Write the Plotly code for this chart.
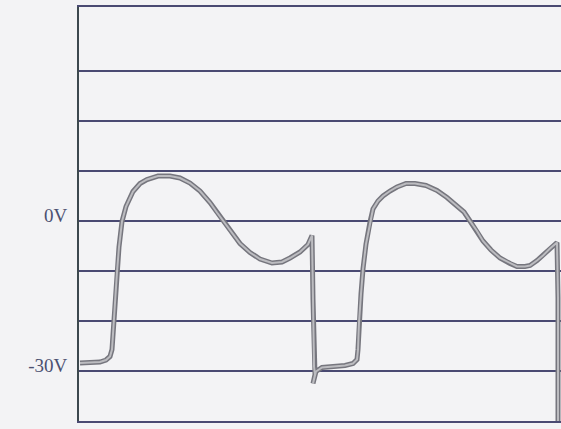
import plotly.graph_objects as go

# time (arbitrary units) and membrane potential (mV)
t_ms = [1, 21, 27, 31, 33, 34, 36, 38, 40, 43,
        47, 54, 61, 68, 79, 91, 101, 111, 121, 131,
        138, 144, 153, 161, 171, 181, 193, 203, 211, 221,
        229, 233, 234, 235, 236, 234, 237, 243, 256, 266,
        274, 278, 279, 280, 282, 284, 287, 291, 294, 299,
        304, 311, 318, 327, 336, 347, 358, 368, 378, 385,
        391, 398, 404, 412, 421, 431, 438, 446, 451, 458,
        464, 471, 478, 479, 479]
v_mv = [-28.4, -28.2, -27.8, -27.1, -25.7, -22.2, -16.2, -10.2, -5.2, -0.1,
        2.9, 5.9, 7.5, 8.3, 9.0, 9.0, 8.6, 7.6, 6.0, 3.7,
        1.7, 0.1, -2.3, -4.5, -6.3, -7.6, -8.4, -8.2, -7.4, -6.2,
        -4.7, -2.9, -15.7, -29.1, -30.7, -32.5, -30.1, -29.3, -29.1, -28.9,
        -28.5, -27.7, -25.7, -20.3, -14.6, -9.6, -4.6, -0.2, 2.4, 4.0,
        5.0, 6.0, 6.8, 7.5, 7.5, 7.1, 6.1, 4.7, 3.1, 1.8,
        0.0, -2.0, -4.0, -5.8, -7.4, -8.5, -9.1, -9.1, -8.9, -7.9,
        -6.9, -5.5, -4.3, -15.3, -40.3]

grid_vals = [-40, -30, -20, -10, 0, 10, 20, 30]
grid_text = ["", "-30V", "", "", "0V", "", "", ""]

fig = go.Figure()
fig.add_trace(go.Scatter(x=t_ms, y=v_mv, mode="lines",
                         line=dict(color="#76767e", width=5),
                         hoverinfo="skip", showlegend=False))
fig.add_trace(go.Scatter(x=t_ms, y=v_mv, mode="lines",
                         line=dict(color="#bcbcc0", width=2),
                         hoverinfo="skip", showlegend=False))

fig.update_layout(
    width=561, height=429,
    margin=dict(l=79, r=0, t=7, b=8),
    paper_bgcolor="#f3f3f5", plot_bgcolor="#f3f3f5",
    showlegend=False,
    xaxis=dict(range=[0, 482], showgrid=False, zeroline=False,
               showticklabels=False, ticks="",
               showline=True, linecolor="#4a4a72", linewidth=2, mirror=True),
    yaxis=dict(range=[-40, 42.8], tickvals=grid_vals, ticktext=grid_text,
               showgrid=True, gridcolor="#4a4a72", gridwidth=2,
               zeroline=False, ticks="", ticklabelshift=-6,
               ticklabelstandoff=6,
               tickfont=dict(family="Liberation Serif", size=19, color="#4c5070"),
               showline=True, linecolor="#3c484e", linewidth=2, mirror=False),
)

fig.write_html("out.html", config={"displayModeBar": False},
               post_script="document.body.style.margin='0';document.body.style.overflow='hidden';")
